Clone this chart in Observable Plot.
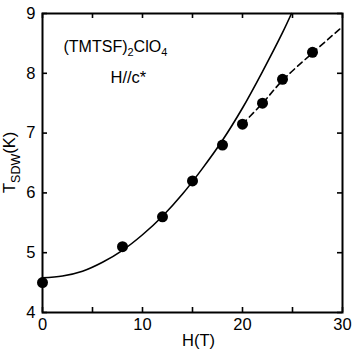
<!DOCTYPE html>
<html>
<head>
<meta charset="utf-8">
<script src="https://cdn.jsdelivr.net/npm/d3@7"></script>
<script src="https://cdn.jsdelivr.net/npm/@observablehq/plot@0.6"></script>
<style>
  html, body { margin: 0; padding: 0; background: white; }
</style>
</head>
<body>
<div id="chart"></div>
<script>
// Measured points (H in tesla, T_SDW in kelvin)
const pointH = [0, 8, 12, 15, 18, 20, 22, 24, 27];
const pointT = [4.5, 5.1, 5.6, 6.2, 6.8, 7.15, 7.5, 7.9, 8.35];

// Solid fitted curve
const fitH = [0, 2, 4, 6, 8, 10, 12, 14, 16, 18, 20, 22, 24, 24.9];
const fitT = [4.58, 4.61, 4.69, 4.84, 5.04, 5.30, 5.61, 5.98, 6.41, 6.88, 7.42, 8.03, 8.68, 9.0];

// Dashed guide line
const dashH = [20, 22, 24, 27, 30];
const dashT = [7.15, 7.5, 7.88, 8.34, 8.78];

// Axis ticks
const xTicks = [0, 5, 10, 15, 20, 25, 30];
const xTickLabels = [0, 10, 20, 30];
const yTicks = [4, 5, 6, 7, 8, 9];

const points = pointH.map((h, i) => ({H: h, T: pointT[i]}));
const fit = fitH.map((h, i) => ({H: h, T: fitT[i]}));
const dash = dashH.map((h, i) => ({H: h, T: dashT[i]}));

const W = 360, HT = 351;
const mL = 42, mR = 18, mT = 13, mB = 39;
const innerW = W - mL - mR, innerH = HT - mT - mB;
const tk = 5;

const plot = Plot.plot({
  width: W,
  height: HT,
  marginLeft: mL, marginRight: mR, marginTop: mT, marginBottom: mB,
  x: {domain: [0, 30]},
  y: {domain: [4, 9]},
  style: {fontFamily: "'Liberation Sans', Arial, Helvetica, sans-serif", fontSize: "16px", color: "black", background: "white"},
  marks: [
    Plot.axisX(xTickLabels, {tickSize: 0, tickPadding: 6, fontSize: 16.5, label: null, tickFormat: d3.format("d")}),
    Plot.axisY(yTicks, {tickSize: 0, tickPadding: 7, fontSize: 16.5, label: null, tickFormat: d3.format("d")}),
    Plot.tickX(xTicks, {x: d => d, insetTop: innerH - tk, strokeWidth: 1.6}),
    Plot.tickX(xTicks, {x: d => d, insetBottom: innerH - tk, strokeWidth: 1.6}),
    Plot.tickY(yTicks, {y: d => d, insetRight: innerW - tk, strokeWidth: 1.6}),
    Plot.tickY(yTicks, {y: d => d, insetLeft: innerW - tk, strokeWidth: 1.6}),
    Plot.line(fit, {x: "H", y: "T", curve: "catmull-rom", stroke: "black", strokeWidth: 1.6}),
    Plot.line(dash, {x: "H", y: "T", curve: "catmull-rom", stroke: "black", strokeWidth: 1.6, strokeDasharray: "6,4"}),
    Plot.dot(points, {x: "H", y: "T", r: 5.5, fill: "black", stroke: null}),
    Plot.text(["(TMTSF)2ClO4"], {x: 2.1, y: 8.35, text: d => d, textAnchor: "start", lineAnchor: "bottom", fontSize: 16, className: "lbl-title"}),
    Plot.text(["H//c*"], {x: 6.8, y: 7.83, text: d => d, textAnchor: "start", lineAnchor: "bottom", fontSize: 16.5}),
    Plot.text(["H(T)"], {frameAnchor: "bottom", text: d => d, dy: 33, dx: 6, lineAnchor: "bottom", fontSize: 16.5}),
    Plot.text(["T_SDW(K)"], {frameAnchor: "left", y: 6.51, text: d => d, rotate: -90, dx: -28, textAnchor: "middle", lineAnchor: "bottom", fontSize: 16.5, className: "lbl-y"}),
    Plot.frame({stroke: "black", strokeWidth: 2})
  ]
});

document.getElementById("chart").appendChild(plot);

function richText(textEl, parts, subSize, shift) {
  const t = d3.select(textEl);
  t.text(null);
  let prevSub = false;
  parts.forEach(([s, sub]) => {
    const ts = t.append("tspan").text(s);
    if (sub && !prevSub) ts.attr("dy", shift).attr("font-size", subSize);
    else if (sub) ts.attr("font-size", subSize);
    else if (!sub && prevSub) ts.attr("dy", -shift);
    prevSub = sub;
  });
}
d3.select(plot).selectAll(".lbl-title text").each(function() {
  richText(this, [["(TMTSF)", false], ["2", true], ["ClO", false], ["4", true]], 11, 4);
});
d3.select(plot).selectAll(".lbl-y text").each(function() {
  richText(this, [["T", false], ["SDW", true], ["(K)", false]], 12.5, 5);
});
</script>
</body>
</html>
